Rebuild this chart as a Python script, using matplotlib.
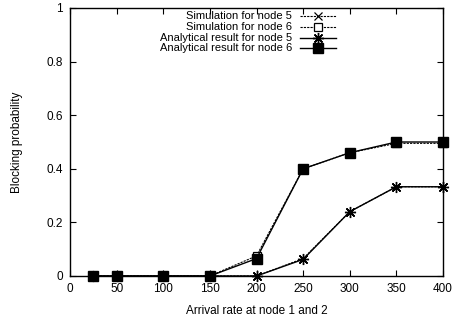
import matplotlib
matplotlib.use("Agg")
import matplotlib.pyplot as plt

plt.rcParams['font.family'] = ['Liberation Sans', 'DejaVu Sans']

arrival = [25, 50, 100, 150, 200, 250, 300, 350, 400]
sim_node5 = [0, 0, 0, 0, 0.0, 0.065, 0.24, 0.333, 0.333]
sim_node6 = [0, 0, 0, 0, 0.075, 0.40, 0.46, 0.495, 0.495]
ana_node5 = [0, 0, 0, 0, 0.0, 0.062, 0.24, 0.333, 0.333]
ana_node6 = [0, 0, 0, 0, 0.065, 0.40, 0.46, 0.50, 0.50]

labels = ["Simulation for node 5", "Simulation for node 6",
          "Analytical result for node 5", "Analytical result for node 6"]
xticks = [0, 50, 100, 150, 200, 250, 300, 350, 400]
yticks = [0, 0.2, 0.4, 0.6, 0.8, 1]
yticklabels = ["0", "0.2", "0.4", "0.6", "0.8", "1"]

fig = plt.figure(figsize=(4.58, 3.24), dpi=100)
ax = fig.add_axes([70/458, 48/324, 373/458, 268/324])

asterisk = (8, 2, 0)
styles = [
    dict(ls=(0, (2, 1)), lw=0.8, marker='x', ms=6, mfc='none', mec='black', mew=0.9),
    dict(ls=(0, (2, 1)), lw=0.8, marker='s', ms=6, mfc='white', mec='black', mew=0.9),
    dict(ls='-', lw=1.0, marker=asterisk, ms=8, mfc='none', mec='black', mew=1.0),
    dict(ls='-', lw=1.0, marker='s', ms=7.5, mfc='black', mec='black', mew=1.0),
]
all_series = [sim_node5, sim_node6, ana_node5, ana_node6]
for idx in range(4):
    ax.plot(arrival, all_series[idx], color='black', clip_on=False, zorder=3 + idx,
            **styles[idx])

ax.set_xlim(0, 400)
ax.set_ylim(0, 1)
ax.set_xticks(xticks)
ax.set_yticks(yticks)
ax.set_yticklabels(yticklabels)
ax.tick_params(direction='in', length=4, width=0.8, top=True, right=True,
               labelsize=8.5, pad=5)
for s in ax.spines.values():
    s.set_linewidth(1.0)
ax.set_xlabel("Arrival rate at node 1 and 2", fontsize=8.5, labelpad=7)
ax.set_ylabel("Blocking probability", fontsize=8.5, labelpad=17)

# manual gnuplot-style legend (text right-aligned, sample to the right)
leg_y = [0.969, 0.929, 0.889, 0.849]
for i in range(4):
    y = leg_y[i]
    ax.text(0.595, y, labels[i], transform=ax.transAxes, ha='right', va='center',
            fontsize=8)
    st = styles[i]
    ax.plot([0.617, 0.712], [y, y], transform=ax.transAxes, color='black',
            ls=st['ls'], lw=st['lw'], clip_on=False)
    ax.plot([0.664], [y], transform=ax.transAxes, color='black', ls='none',
            marker=st['marker'], ms=st['ms'], mfc=st['mfc'], mec=st['mec'],
            mew=st['mew'], clip_on=False)

fig.savefig("out.png", dpi=100)
